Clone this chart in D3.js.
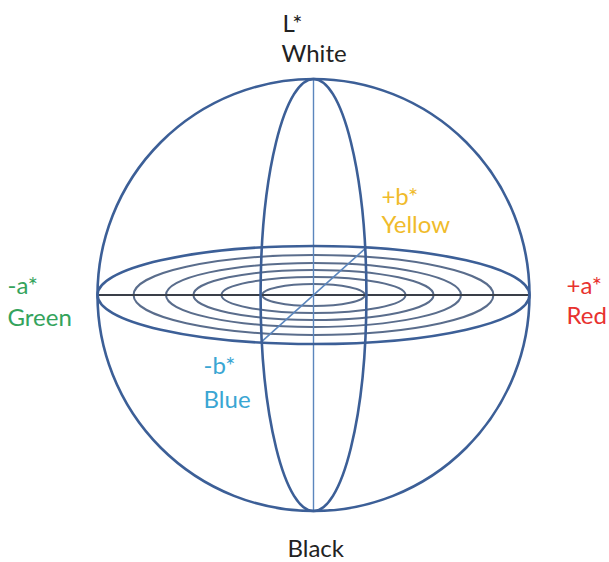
<!DOCTYPE html>
<html>
<head>
<meta charset="utf-8">
<script src="https://cdn.jsdelivr.net/npm/d3@7"></script>
<style>
  html, body { margin: 0; padding: 0; background: #fff; }
  svg { display: block; }
</style>
</head>
<body>
<div id="chart"></div>
<script>
// --------------------
// 1) DATA (sphere units, radius = 1)
// --------------------
const ringWidths  = [1.0, 0.833, 0.683, 0.556, 0.426, 0.238];
const ringHeights = [0.227, 0.185, 0.148, 0.116, 0.083, 0.051];
const meridianWidth = 0.245;
const axisNames  = ["L*", "", "+a*", "-a*", "+b*", "-b*"];
const poleNames  = ["White", "Black", "Red", "Green", "Yellow", "Blue"];

// --------------------
// 2) BASIC SETUP
// --------------------
const width = 609, height = 562;
const cx = 313.5, cy = 295, R = 216;

const x = d3.scaleLinear().domain([-1, 1]).range([cx - R, cx + R]);
const y = d3.scaleLinear().domain([-1, 1]).range([cy + R, cy - R]);
const rx = v => x(v) - x(0);
const ry = v => y(0) - y(v);

const svg = d3.select("#chart")
  .append("svg")
  .attr("width", width)
  .attr("height", height);

const blue = "#3c5f97";

// --------------------
// 3) EQUATOR RINGS
// --------------------
svg.append("g")
  .selectAll("ellipse")
  .data(ringWidths.slice(1))
  .enter()
  .append("ellipse")
  .attr("cx", x(0))
  .attr("cy", y(0))
  .attr("rx", d => rx(d))
  .attr("ry", (d, i) => ry(ringHeights[i + 1]))
  .attr("fill", "none")
  .attr("stroke", "#5a6d8c")
  .attr("stroke-width", 2);

// axes a* (horizontal) and L* (vertical)
svg.append("line")
  .attr("x1", x(-1)).attr("x2", x(1))
  .attr("y1", y(0)).attr("y2", y(0))
  .attr("stroke", "#3a3f48")
  .attr("stroke-width", 2);

svg.append("line")
  .attr("x1", x(0)).attr("x2", x(0))
  .attr("y1", y(1)).attr("y2", y(-1))
  .attr("stroke", "#5b86bd")
  .attr("stroke-width", 1.4);

// b* axis: diagonal across the equator disc
const bx = meridianWidth;
const by = ringHeights[0] * Math.sqrt(1 - bx * bx);
svg.append("line")
  .attr("x1", x(bx)).attr("y1", y(by))
  .attr("x2", x(-bx)).attr("y2", y(-by))
  .attr("stroke", "#5b86bd")
  .attr("stroke-width", 1.6);

// outer equator
svg.append("ellipse")
  .attr("cx", x(0)).attr("cy", y(0))
  .attr("rx", rx(ringWidths[0])).attr("ry", ry(ringHeights[0]))
  .attr("fill", "none")
  .attr("stroke", blue)
  .attr("stroke-width", 2.6);

// meridian
svg.append("ellipse")
  .attr("cx", x(0)).attr("cy", y(0))
  .attr("rx", rx(meridianWidth)).attr("ry", ry(1))
  .attr("fill", "none")
  .attr("stroke", blue)
  .attr("stroke-width", 2.6);

// sphere outline
svg.append("circle")
  .attr("cx", x(0)).attr("cy", y(0))
  .attr("r", R)
  .attr("fill", "none")
  .attr("stroke", blue)
  .attr("stroke-width", 2.6);

// --------------------
// 4) LABELS
// --------------------
const labelColors = ["#222", "#222", "#e8322f", "#34a35c", "#f0bb2b", "#3aa6d3"];
const labelPos = [
  [x(0) - 31, y(1) - 47, x(0) - 32, y(1) - 17],
  [0, 0, x(0) - 26, y(-1) + 46],
  [x(1) + 37, y(0) - 1, x(1) + 37, y(0) + 29],
  [x(-1) - 90, y(0) - 1, x(-1) - 90, y(0) + 31],
  [x(bx) + 15, y(by) - 42, x(bx) + 15, y(by) - 14],
  [x(-bx) - 57, y(-by) + 31, x(-bx) - 57, y(-by) + 65]
];

const labels = svg.append("g")
  .attr("font-family", "Lato, 'Open Sans', sans-serif")
  .attr("font-size", 24);

poleNames.forEach((name, i) => {
  const p = labelPos[i];
  if (axisNames[i]) {
    labels.append("text")
      .attr("x", p[0]).attr("y", p[1])
      .attr("fill", labelColors[i])
      .text(axisNames[i]);
  }
  labels.append("text")
    .attr("x", p[2]).attr("y", p[3])
    .attr("fill", labelColors[i])
    .text(name);
});
</script>
</body>
</html>
